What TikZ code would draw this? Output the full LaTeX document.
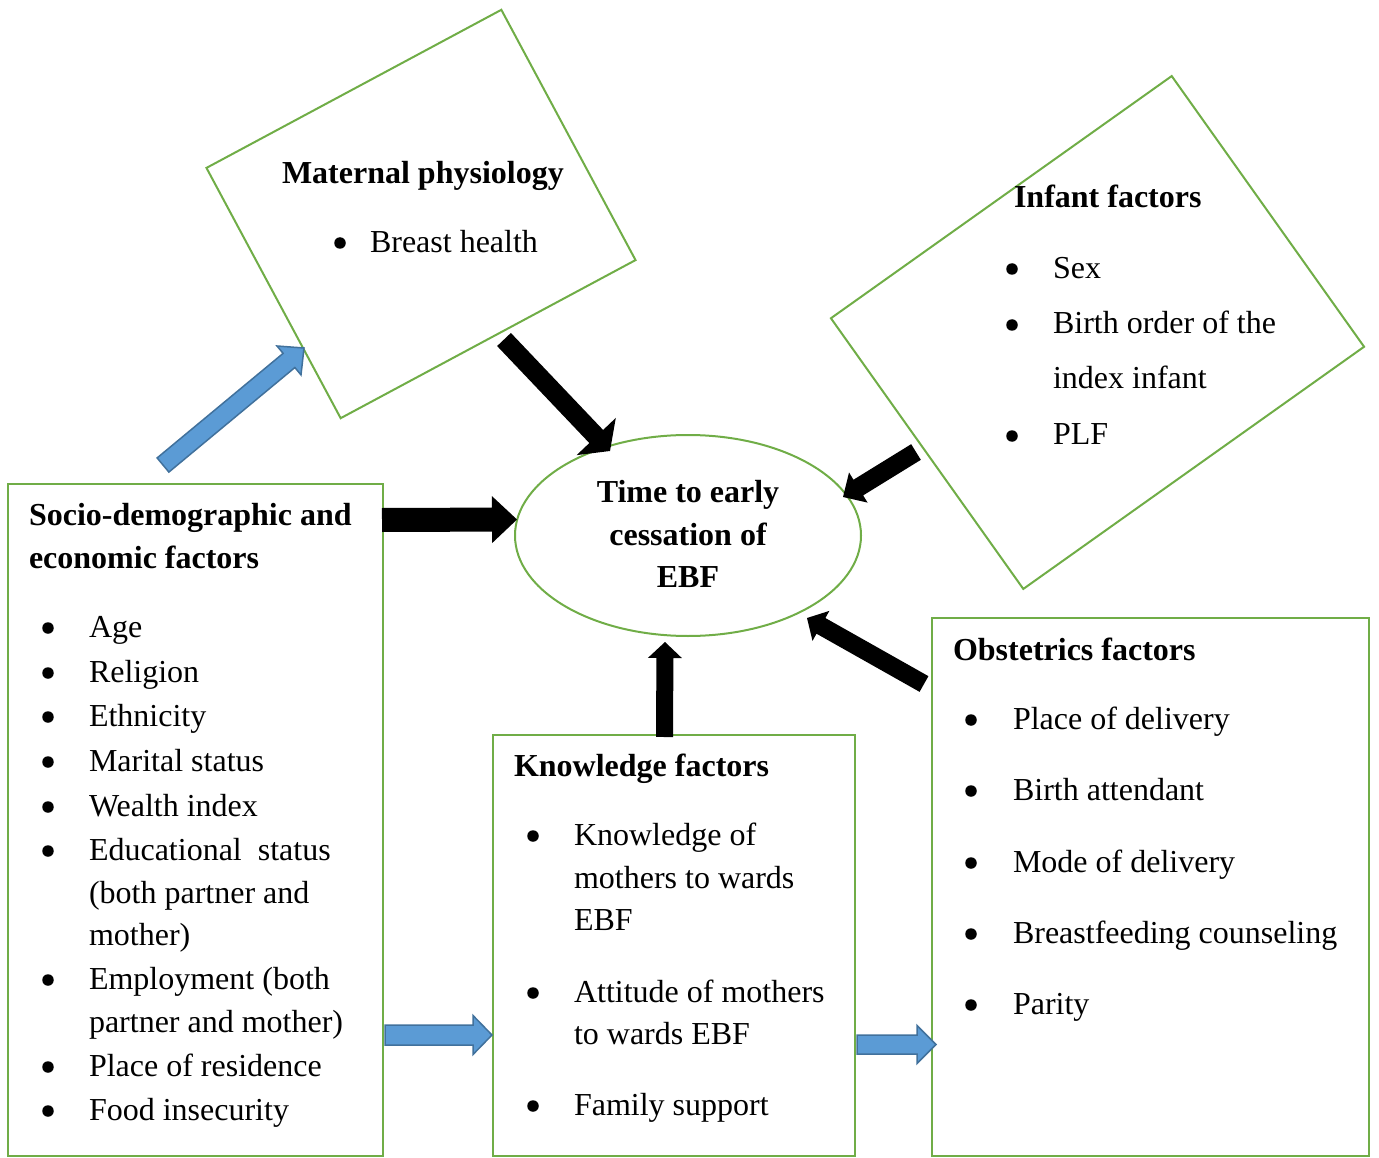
\documentclass[tikz,border=0pt]{standalone}
\usepackage{fontspec}
\setmainfont{Liberation Serif}
\usetikzlibrary{calc,shapes.geometric}
\definecolor{grn}{HTML}{70AD47}
\definecolor{bfill}{HTML}{5B9BD5}
\definecolor{bline}{HTML}{41719C}
\newcommand{\blockarr}[6]{%
  \coordinate (hb) at ($(#3)!#6pt!(#2)$);
  \draw[#1] ($(#2)!#4pt!90:(#3)$) -- ($(hb)!#4pt!90:(#3)$) -- ($(hb)!#5pt!90:(#3)$) -- (#3)
    -- ($(hb)!#5pt!-90:(#3)$) -- ($(hb)!#4pt!-90:(#3)$) -- ($(#2)!#4pt!-90:(#3)$) -- cycle;}
\begin{document}
\begin{tikzpicture}[x=1pt,y=-1pt,
  box/.style={draw=grn,line width=2pt,inner sep=0,outer sep=0},
  txt/.style={inner sep=0,outer sep=0,anchor=base west,yshift=-1.5pt,font=\fontsize{32}{38}\selectfont},
  hd/.style={inner sep=0,outer sep=0,anchor=base west,yshift=-1.5pt,font=\fontsize{32}{38}\selectfont\bfseries},
  bul/.style={circle,fill=black,inner sep=0,minimum size=11.5pt,yshift=-1pt},
  barr/.style={fill=bfill,draw=bline,line width=1.5pt,line join=miter},
  karr/.style={fill=black,draw=none}]
\useasboundingbox (0,0) rectangle (1379,1158);

% boxes
\node[box,rotate=28.2,minimum width=334.6pt,minimum height=284pt] (mat) at (421,214) {};
\node[box,rotate=35.4,minimum width=418.1pt,minimum height=332.1pt] (inf) at (1097.5,332.5) {};
\node[box,ellipse,minimum width=346pt,minimum height=201pt] (ebf) at (688,535.5) {};
\node[box,minimum width=375pt,minimum height=672pt] (soc) at (195.5,820) {};
\node[box,minimum width=362pt,minimum height=421pt] (kno) at (674,945.5) {};
\node[box,minimum width=437pt,minimum height=538pt] (obs) at (1150.5,887) {};

% arrow end points
\coordinate (a1s) at (163,465);   \coordinate (a1e) at (304,348);
\coordinate (a2s) at (504,339.5); \coordinate (a2e) at (610,451);
\coordinate (a3s) at (916,452);   \coordinate (a3e) at (843,497);
\coordinate (a4s) at (924,684);   \coordinate (a4e) at (807,618);
\coordinate (a5s) at (382,520);   \coordinate (a5e) at (517,519.5);
\coordinate (a6s) at (664.5,737); \coordinate (a6e) at (665,642);
\coordinate (a7s) at (385,1035);  \coordinate (a7e) at (492,1035);
\coordinate (a8s) at (857,1044.5);\coordinate (a8e) at (936,1044.5);

\blockarr{barr}{a1s}{a1e}{9.2}{18.8}{19.5}
\blockarr{karr}{a2s}{a2e}{9.5}{27}{20}
\blockarr{karr}{a3s}{a3e}{9.2}{17.7}{18}
\blockarr{karr}{a4s}{a4e}{9}{17.2}{16}
\blockarr{karr}{a5s}{a5e}{12}{23.5}{25}
\blockarr{karr}{a6s}{a6e}{8.5}{17}{16}
\blockarr{barr}{a7s}{a7e}{10}{19.5}{19}
\blockarr{barr}{a8s}{a8e}{9.5}{19}{19}

% maternal
\node[hd] (m0) at (282,182) {Maternal physiology};
\node[bul] (mb1) at (340,242) {};
\node[txt] (m1) at (370,251) {Breast health};

% infant
\node[hd] (i0) at (1014,206) {Infant factors};
\node[bul] (ib1) at (1012,268) {};
\node[txt] (i1) at (1053,277) {Sex};
\node[bul] (ib2) at (1012,324) {};
\node[txt] (i2) at (1053,332) {Birth order of the};
\node[txt] (i3) at (1053,387) {index infant};
\node[bul] (ib4) at (1012,435) {};
\node[txt] (i4) at (1053,443) {PLF};

% ellipse text
\node[hd,anchor=base] (e1) at (688,501) {Time to early};
\node[hd,anchor=base] (e2) at (688,544) {cessation of};
\node[hd,anchor=base] (e3) at (688,586) {EBF};

% socio
\node[hd] (s0) at (29,524) {Socio-demographic and};
\node[hd] (s00) at (29,567) {economic factors};
\node[bul] (sb1) at (48,627) {};  \node[txt] (s1) at (89,636) {Age};
\node[bul] (sb2) at (48,672) {};  \node[txt] (s2) at (89,681) {Religion};
\node[bul] (sb3) at (48,716) {};  \node[txt] (s3) at (89,725) {Ethnicity};
\node[bul] (sb4) at (48,761) {};  \node[txt] (s4) at (89,770) {Marital status};
\node[bul] (sb5) at (48,806) {};  \node[txt] (s5) at (89,815) {Wealth index};
\node[bul] (sb6) at (48,850) {};  \node[txt] (s6) at (89,859) {Educational~~status};
\node[txt] (s6b) at (89,902) {(both partner and};
\node[txt] (s6c) at (89,944) {mother)};
\node[bul] (sb7) at (48,979) {};  \node[txt] (s7) at (89,988) {Employment (both};
\node[txt] (s7b) at (89,1031) {partner and mother)};
\node[bul] (sb8) at (48,1066) {}; \node[txt] (s8) at (89,1075) {Place of residence};
\node[bul] (sb9) at (48,1110) {}; \node[txt] (s9) at (89,1119) {Food insecurity};

% knowledge
\node[hd] (k0) at (514,775) {Knowledge factors};
\node[bul] (kb1) at (533,835) {};  \node[txt] (k1) at (574,844) {Knowledge of};
\node[txt] (k1b) at (574,887) {mothers to wards};
\node[txt] (k1c) at (574,929) {EBF};
\node[bul] (kb2) at (533,992) {};  \node[txt] (k2) at (574,1001) {Attitude of mothers};
\node[txt] (k2b) at (574,1043) {to wards EBF};
\node[bul] (kb3) at (533,1105) {}; \node[txt] (k3) at (574,1114) {Family support};

% obstetrics
\node[hd] (o0) at (953,659) {Obstetrics factors};
\node[bul] (ob1) at (971,719) {};  \node[txt] (o1) at (1013,728) {Place of delivery};
\node[bul] (ob2) at (971,790) {};  \node[txt] (o2) at (1013,799) {Birth attendant};
\node[bul] (ob3) at (971,862) {};  \node[txt] (o3) at (1013,871) {Mode of delivery};
\node[bul] (ob4) at (971,933) {};  \node[txt] (o4) at (1013,942) {Breastfeeding counseling};
\node[bul] (ob5) at (971,1004) {}; \node[txt] (o5) at (1013,1013) {Parity};
\end{tikzpicture}
\end{document}
